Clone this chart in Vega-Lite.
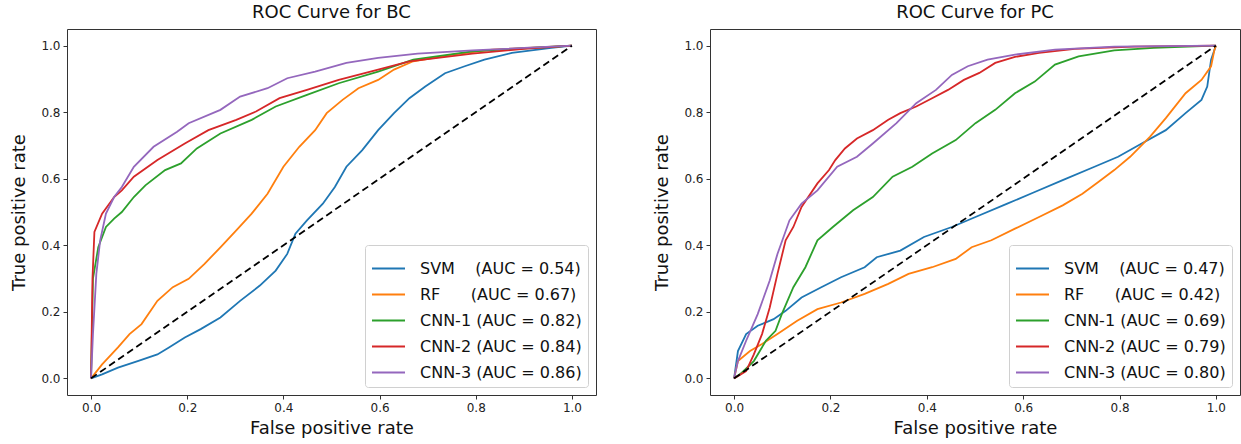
{
"$schema": "https://vega.github.io/schema/vega-lite/v6.json",
"padding": {"left": 10, "top": 3, "right": 0, "bottom": 0},
"background": "white",
"spacing": 114,
"bounds": "flush",
"config": {
  "font": "DejaVu Sans",
  "view": {"stroke": "#333", "strokeWidth": 1},
  "axis": {"grid": false, "domain": false, "tickColor": "#333", "tickSize": 4, "tickWidth": 1, "labelFontSize": 12, "labelColor": "#222", "labelFont": "DejaVu Sans", "titleFont": "DejaVu Sans", "titleFontSize": 18, "titleFontWeight": "normal", "titleColor": "#111", "labelPadding": 3},
  "axisX": {"titlePadding": 6},
  "axisY": {"titlePadding": 12},
  "title": {"fontSize": 18, "fontWeight": "normal", "color": "#111", "font": "DejaVu Sans", "offset": 7},
  "legend": {"labelFontSize": 16, "labelFont": "DejaVu Sans", "labelColor": "#111", "labelLimit": 0, "symbolType": "stroke", "symbolSize": 1089, "symbolStrokeWidth": 2, "strokeColor": "#d0d0d0", "fillColor": "rgba(255,255,255,0.85)", "padding": 6, "cornerRadius": 3, "rowPadding": -9, "labelOffset": 14, "offset": 8, "orient": "bottom-right"}
},
"datasets": {
  "diag": [{"fpr": 0, "tpr": 0}, {"fpr": 1, "tpr": 1}],
  "bc": [
    {"model": "SVM\u00a0\u00a0\u00a0\u00a0(AUC = 0.54)", "fpr": 0, "tpr": 0},
    {"model": "SVM\u00a0\u00a0\u00a0\u00a0(AUC = 0.54)", "fpr": 0.023, "tpr": 0.012},
    {"model": "SVM\u00a0\u00a0\u00a0\u00a0(AUC = 0.54)", "fpr": 0.056, "tpr": 0.032},
    {"model": "SVM\u00a0\u00a0\u00a0\u00a0(AUC = 0.54)", "fpr": 0.097, "tpr": 0.052},
    {"model": "SVM\u00a0\u00a0\u00a0\u00a0(AUC = 0.54)", "fpr": 0.138, "tpr": 0.072},
    {"model": "SVM\u00a0\u00a0\u00a0\u00a0(AUC = 0.54)", "fpr": 0.162, "tpr": 0.093},
    {"model": "SVM\u00a0\u00a0\u00a0\u00a0(AUC = 0.54)", "fpr": 0.195, "tpr": 0.123},
    {"model": "SVM\u00a0\u00a0\u00a0\u00a0(AUC = 0.54)", "fpr": 0.228, "tpr": 0.148},
    {"model": "SVM\u00a0\u00a0\u00a0\u00a0(AUC = 0.54)", "fpr": 0.269, "tpr": 0.183},
    {"model": "SVM\u00a0\u00a0\u00a0\u00a0(AUC = 0.54)", "fpr": 0.31, "tpr": 0.233},
    {"model": "SVM\u00a0\u00a0\u00a0\u00a0(AUC = 0.54)", "fpr": 0.351, "tpr": 0.279},
    {"model": "SVM\u00a0\u00a0\u00a0\u00a0(AUC = 0.54)", "fpr": 0.384, "tpr": 0.324},
    {"model": "SVM\u00a0\u00a0\u00a0\u00a0(AUC = 0.54)", "fpr": 0.408, "tpr": 0.374},
    {"model": "SVM\u00a0\u00a0\u00a0\u00a0(AUC = 0.54)", "fpr": 0.425, "tpr": 0.435},
    {"model": "SVM\u00a0\u00a0\u00a0\u00a0(AUC = 0.54)", "fpr": 0.449, "tpr": 0.475},
    {"model": "SVM\u00a0\u00a0\u00a0\u00a0(AUC = 0.54)", "fpr": 0.482, "tpr": 0.525},
    {"model": "SVM\u00a0\u00a0\u00a0\u00a0(AUC = 0.54)", "fpr": 0.507, "tpr": 0.575},
    {"model": "SVM\u00a0\u00a0\u00a0\u00a0(AUC = 0.54)", "fpr": 0.531, "tpr": 0.636},
    {"model": "SVM\u00a0\u00a0\u00a0\u00a0(AUC = 0.54)", "fpr": 0.564, "tpr": 0.686},
    {"model": "SVM\u00a0\u00a0\u00a0\u00a0(AUC = 0.54)", "fpr": 0.597, "tpr": 0.746},
    {"model": "SVM\u00a0\u00a0\u00a0\u00a0(AUC = 0.54)", "fpr": 0.63, "tpr": 0.797},
    {"model": "SVM\u00a0\u00a0\u00a0\u00a0(AUC = 0.54)", "fpr": 0.662, "tpr": 0.842},
    {"model": "SVM\u00a0\u00a0\u00a0\u00a0(AUC = 0.54)", "fpr": 0.695, "tpr": 0.877},
    {"model": "SVM\u00a0\u00a0\u00a0\u00a0(AUC = 0.54)", "fpr": 0.736, "tpr": 0.917},
    {"model": "SVM\u00a0\u00a0\u00a0\u00a0(AUC = 0.54)", "fpr": 0.777, "tpr": 0.938},
    {"model": "SVM\u00a0\u00a0\u00a0\u00a0(AUC = 0.54)", "fpr": 0.818, "tpr": 0.958},
    {"model": "SVM\u00a0\u00a0\u00a0\u00a0(AUC = 0.54)", "fpr": 0.875, "tpr": 0.978},
    {"model": "SVM\u00a0\u00a0\u00a0\u00a0(AUC = 0.54)", "fpr": 0.957, "tpr": 0.993},
    {"model": "SVM\u00a0\u00a0\u00a0\u00a0(AUC = 0.54)", "fpr": 1, "tpr": 1},
    {"model": "RF\u00a0\u00a0\u00a0\u00a0\u00a0\u00a0(AUC = 0.67)", "fpr": 0, "tpr": 0},
    {"model": "RF\u00a0\u00a0\u00a0\u00a0\u00a0\u00a0(AUC = 0.67)", "fpr": 0.023, "tpr": 0.042},
    {"model": "RF\u00a0\u00a0\u00a0\u00a0\u00a0\u00a0(AUC = 0.67)", "fpr": 0.056, "tpr": 0.093},
    {"model": "RF\u00a0\u00a0\u00a0\u00a0\u00a0\u00a0(AUC = 0.67)", "fpr": 0.08, "tpr": 0.133},
    {"model": "RF\u00a0\u00a0\u00a0\u00a0\u00a0\u00a0(AUC = 0.67)", "fpr": 0.105, "tpr": 0.163},
    {"model": "RF\u00a0\u00a0\u00a0\u00a0\u00a0\u00a0(AUC = 0.67)", "fpr": 0.138, "tpr": 0.233},
    {"model": "RF\u00a0\u00a0\u00a0\u00a0\u00a0\u00a0(AUC = 0.67)", "fpr": 0.17, "tpr": 0.274},
    {"model": "RF\u00a0\u00a0\u00a0\u00a0\u00a0\u00a0(AUC = 0.67)", "fpr": 0.203, "tpr": 0.299},
    {"model": "RF\u00a0\u00a0\u00a0\u00a0\u00a0\u00a0(AUC = 0.67)", "fpr": 0.236, "tpr": 0.344},
    {"model": "RF\u00a0\u00a0\u00a0\u00a0\u00a0\u00a0(AUC = 0.67)", "fpr": 0.269, "tpr": 0.394},
    {"model": "RF\u00a0\u00a0\u00a0\u00a0\u00a0\u00a0(AUC = 0.67)", "fpr": 0.302, "tpr": 0.445},
    {"model": "RF\u00a0\u00a0\u00a0\u00a0\u00a0\u00a0(AUC = 0.67)", "fpr": 0.334, "tpr": 0.495},
    {"model": "RF\u00a0\u00a0\u00a0\u00a0\u00a0\u00a0(AUC = 0.67)", "fpr": 0.367, "tpr": 0.555},
    {"model": "RF\u00a0\u00a0\u00a0\u00a0\u00a0\u00a0(AUC = 0.67)", "fpr": 0.4, "tpr": 0.636},
    {"model": "RF\u00a0\u00a0\u00a0\u00a0\u00a0\u00a0(AUC = 0.67)", "fpr": 0.433, "tpr": 0.696},
    {"model": "RF\u00a0\u00a0\u00a0\u00a0\u00a0\u00a0(AUC = 0.67)", "fpr": 0.466, "tpr": 0.746},
    {"model": "RF\u00a0\u00a0\u00a0\u00a0\u00a0\u00a0(AUC = 0.67)", "fpr": 0.49, "tpr": 0.797},
    {"model": "RF\u00a0\u00a0\u00a0\u00a0\u00a0\u00a0(AUC = 0.67)", "fpr": 0.523, "tpr": 0.837},
    {"model": "RF\u00a0\u00a0\u00a0\u00a0\u00a0\u00a0(AUC = 0.67)", "fpr": 0.556, "tpr": 0.872},
    {"model": "RF\u00a0\u00a0\u00a0\u00a0\u00a0\u00a0(AUC = 0.67)", "fpr": 0.597, "tpr": 0.897},
    {"model": "RF\u00a0\u00a0\u00a0\u00a0\u00a0\u00a0(AUC = 0.67)", "fpr": 0.63, "tpr": 0.928},
    {"model": "RF\u00a0\u00a0\u00a0\u00a0\u00a0\u00a0(AUC = 0.67)", "fpr": 0.67, "tpr": 0.953},
    {"model": "RF\u00a0\u00a0\u00a0\u00a0\u00a0\u00a0(AUC = 0.67)", "fpr": 0.752, "tpr": 0.973},
    {"model": "RF\u00a0\u00a0\u00a0\u00a0\u00a0\u00a0(AUC = 0.67)", "fpr": 0.834, "tpr": 0.988},
    {"model": "RF\u00a0\u00a0\u00a0\u00a0\u00a0\u00a0(AUC = 0.67)", "fpr": 1, "tpr": 1},
    {"model": "CNN-1 (AUC = 0.82)", "fpr": 0, "tpr": 0},
    {"model": "CNN-1 (AUC = 0.82)", "fpr": 0.004, "tpr": 0.3},
    {"model": "CNN-1 (AUC = 0.82)", "fpr": 0.015, "tpr": 0.394},
    {"model": "CNN-1 (AUC = 0.82)", "fpr": 0.031, "tpr": 0.455},
    {"model": "CNN-1 (AUC = 0.82)", "fpr": 0.048, "tpr": 0.48},
    {"model": "CNN-1 (AUC = 0.82)", "fpr": 0.064, "tpr": 0.5},
    {"model": "CNN-1 (AUC = 0.82)", "fpr": 0.089, "tpr": 0.545},
    {"model": "CNN-1 (AUC = 0.82)", "fpr": 0.113, "tpr": 0.58},
    {"model": "CNN-1 (AUC = 0.82)", "fpr": 0.154, "tpr": 0.626},
    {"model": "CNN-1 (AUC = 0.82)", "fpr": 0.187, "tpr": 0.646},
    {"model": "CNN-1 (AUC = 0.82)", "fpr": 0.22, "tpr": 0.691},
    {"model": "CNN-1 (AUC = 0.82)", "fpr": 0.269, "tpr": 0.736},
    {"model": "CNN-1 (AUC = 0.82)", "fpr": 0.334, "tpr": 0.777},
    {"model": "CNN-1 (AUC = 0.82)", "fpr": 0.384, "tpr": 0.817},
    {"model": "CNN-1 (AUC = 0.82)", "fpr": 0.449, "tpr": 0.852},
    {"model": "CNN-1 (AUC = 0.82)", "fpr": 0.515, "tpr": 0.887},
    {"model": "CNN-1 (AUC = 0.82)", "fpr": 0.597, "tpr": 0.922},
    {"model": "CNN-1 (AUC = 0.82)", "fpr": 0.67, "tpr": 0.958},
    {"model": "CNN-1 (AUC = 0.82)", "fpr": 0.793, "tpr": 0.983},
    {"model": "CNN-1 (AUC = 0.82)", "fpr": 1, "tpr": 1},
    {"model": "CNN-2 (AUC = 0.84)", "fpr": 0, "tpr": 0},
    {"model": "CNN-2 (AUC = 0.84)", "fpr": 0.003, "tpr": 0.3},
    {"model": "CNN-2 (AUC = 0.84)", "fpr": 0.007, "tpr": 0.44},
    {"model": "CNN-2 (AUC = 0.84)", "fpr": 0.023, "tpr": 0.495},
    {"model": "CNN-2 (AUC = 0.84)", "fpr": 0.048, "tpr": 0.545},
    {"model": "CNN-2 (AUC = 0.84)", "fpr": 0.064, "tpr": 0.565},
    {"model": "CNN-2 (AUC = 0.84)", "fpr": 0.089, "tpr": 0.606},
    {"model": "CNN-2 (AUC = 0.84)", "fpr": 0.138, "tpr": 0.656},
    {"model": "CNN-2 (AUC = 0.84)", "fpr": 0.195, "tpr": 0.706},
    {"model": "CNN-2 (AUC = 0.84)", "fpr": 0.244, "tpr": 0.746},
    {"model": "CNN-2 (AUC = 0.84)", "fpr": 0.302, "tpr": 0.777},
    {"model": "CNN-2 (AUC = 0.84)", "fpr": 0.343, "tpr": 0.802},
    {"model": "CNN-2 (AUC = 0.84)", "fpr": 0.392, "tpr": 0.842},
    {"model": "CNN-2 (AUC = 0.84)", "fpr": 0.449, "tpr": 0.867},
    {"model": "CNN-2 (AUC = 0.84)", "fpr": 0.515, "tpr": 0.897},
    {"model": "CNN-2 (AUC = 0.84)", "fpr": 0.597, "tpr": 0.928},
    {"model": "CNN-2 (AUC = 0.84)", "fpr": 0.662, "tpr": 0.953},
    {"model": "CNN-2 (AUC = 0.84)", "fpr": 0.793, "tpr": 0.976},
    {"model": "CNN-2 (AUC = 0.84)", "fpr": 0.9, "tpr": 0.99},
    {"model": "CNN-2 (AUC = 0.84)", "fpr": 1, "tpr": 1},
    {"model": "CNN-3 (AUC = 0.86)", "fpr": 0, "tpr": 0},
    {"model": "CNN-3 (AUC = 0.86)", "fpr": 0.004, "tpr": 0.133},
    {"model": "CNN-3 (AUC = 0.86)", "fpr": 0.011, "tpr": 0.314},
    {"model": "CNN-3 (AUC = 0.86)", "fpr": 0.019, "tpr": 0.415},
    {"model": "CNN-3 (AUC = 0.86)", "fpr": 0.031, "tpr": 0.495},
    {"model": "CNN-3 (AUC = 0.86)", "fpr": 0.048, "tpr": 0.545},
    {"model": "CNN-3 (AUC = 0.86)", "fpr": 0.064, "tpr": 0.575},
    {"model": "CNN-3 (AUC = 0.86)", "fpr": 0.089, "tpr": 0.636},
    {"model": "CNN-3 (AUC = 0.86)", "fpr": 0.13, "tpr": 0.696},
    {"model": "CNN-3 (AUC = 0.86)", "fpr": 0.179, "tpr": 0.741},
    {"model": "CNN-3 (AUC = 0.86)", "fpr": 0.203, "tpr": 0.767},
    {"model": "CNN-3 (AUC = 0.86)", "fpr": 0.269, "tpr": 0.807},
    {"model": "CNN-3 (AUC = 0.86)", "fpr": 0.31, "tpr": 0.847},
    {"model": "CNN-3 (AUC = 0.86)", "fpr": 0.367, "tpr": 0.872},
    {"model": "CNN-3 (AUC = 0.86)", "fpr": 0.408, "tpr": 0.902},
    {"model": "CNN-3 (AUC = 0.86)", "fpr": 0.466, "tpr": 0.922},
    {"model": "CNN-3 (AUC = 0.86)", "fpr": 0.531, "tpr": 0.948},
    {"model": "CNN-3 (AUC = 0.86)", "fpr": 0.597, "tpr": 0.963},
    {"model": "CNN-3 (AUC = 0.86)", "fpr": 0.679, "tpr": 0.976},
    {"model": "CNN-3 (AUC = 0.86)", "fpr": 0.793, "tpr": 0.986},
    {"model": "CNN-3 (AUC = 0.86)", "fpr": 1, "tpr": 1}
  ],
  "pc": [
    {"model": "SVM\u00a0\u00a0\u00a0\u00a0(AUC = 0.47)", "fpr": 0, "tpr": 0},
    {"model": "SVM\u00a0\u00a0\u00a0\u00a0(AUC = 0.47)", "fpr": 0.008, "tpr": 0.082},
    {"model": "SVM\u00a0\u00a0\u00a0\u00a0(AUC = 0.47)", "fpr": 0.025, "tpr": 0.133},
    {"model": "SVM\u00a0\u00a0\u00a0\u00a0(AUC = 0.47)", "fpr": 0.049, "tpr": 0.158},
    {"model": "SVM\u00a0\u00a0\u00a0\u00a0(AUC = 0.47)", "fpr": 0.082, "tpr": 0.178},
    {"model": "SVM\u00a0\u00a0\u00a0\u00a0(AUC = 0.47)", "fpr": 0.107, "tpr": 0.203},
    {"model": "SVM\u00a0\u00a0\u00a0\u00a0(AUC = 0.47)", "fpr": 0.14, "tpr": 0.243},
    {"model": "SVM\u00a0\u00a0\u00a0\u00a0(AUC = 0.47)", "fpr": 0.181, "tpr": 0.274},
    {"model": "SVM\u00a0\u00a0\u00a0\u00a0(AUC = 0.47)", "fpr": 0.222, "tpr": 0.304},
    {"model": "SVM\u00a0\u00a0\u00a0\u00a0(AUC = 0.47)", "fpr": 0.271, "tpr": 0.334},
    {"model": "SVM\u00a0\u00a0\u00a0\u00a0(AUC = 0.47)", "fpr": 0.296, "tpr": 0.364},
    {"model": "SVM\u00a0\u00a0\u00a0\u00a0(AUC = 0.47)", "fpr": 0.345, "tpr": 0.384},
    {"model": "SVM\u00a0\u00a0\u00a0\u00a0(AUC = 0.47)", "fpr": 0.394, "tpr": 0.425},
    {"model": "SVM\u00a0\u00a0\u00a0\u00a0(AUC = 0.47)", "fpr": 0.452, "tpr": 0.455},
    {"model": "SVM\u00a0\u00a0\u00a0\u00a0(AUC = 0.47)", "fpr": 0.501, "tpr": 0.485},
    {"model": "SVM\u00a0\u00a0\u00a0\u00a0(AUC = 0.47)", "fpr": 0.567, "tpr": 0.525},
    {"model": "SVM\u00a0\u00a0\u00a0\u00a0(AUC = 0.47)", "fpr": 0.624, "tpr": 0.56},
    {"model": "SVM\u00a0\u00a0\u00a0\u00a0(AUC = 0.47)", "fpr": 0.682, "tpr": 0.596},
    {"model": "SVM\u00a0\u00a0\u00a0\u00a0(AUC = 0.47)", "fpr": 0.748, "tpr": 0.636},
    {"model": "SVM\u00a0\u00a0\u00a0\u00a0(AUC = 0.47)", "fpr": 0.797, "tpr": 0.666},
    {"model": "SVM\u00a0\u00a0\u00a0\u00a0(AUC = 0.47)", "fpr": 0.846, "tpr": 0.706},
    {"model": "SVM\u00a0\u00a0\u00a0\u00a0(AUC = 0.47)", "fpr": 0.896, "tpr": 0.746},
    {"model": "SVM\u00a0\u00a0\u00a0\u00a0(AUC = 0.47)", "fpr": 0.937, "tpr": 0.797},
    {"model": "SVM\u00a0\u00a0\u00a0\u00a0(AUC = 0.47)", "fpr": 0.97, "tpr": 0.837},
    {"model": "SVM\u00a0\u00a0\u00a0\u00a0(AUC = 0.47)", "fpr": 0.982, "tpr": 0.877},
    {"model": "SVM\u00a0\u00a0\u00a0\u00a0(AUC = 0.47)", "fpr": 0.99, "tpr": 0.958},
    {"model": "SVM\u00a0\u00a0\u00a0\u00a0(AUC = 0.47)", "fpr": 1, "tpr": 1},
    {"model": "RF\u00a0\u00a0\u00a0\u00a0\u00a0\u00a0(AUC = 0.42)", "fpr": 0, "tpr": 0},
    {"model": "RF\u00a0\u00a0\u00a0\u00a0\u00a0\u00a0(AUC = 0.42)", "fpr": 0.008, "tpr": 0.052},
    {"model": "RF\u00a0\u00a0\u00a0\u00a0\u00a0\u00a0(AUC = 0.42)", "fpr": 0.033, "tpr": 0.082},
    {"model": "RF\u00a0\u00a0\u00a0\u00a0\u00a0\u00a0(AUC = 0.42)", "fpr": 0.058, "tpr": 0.103},
    {"model": "RF\u00a0\u00a0\u00a0\u00a0\u00a0\u00a0(AUC = 0.42)", "fpr": 0.09, "tpr": 0.133},
    {"model": "RF\u00a0\u00a0\u00a0\u00a0\u00a0\u00a0(AUC = 0.42)", "fpr": 0.131, "tpr": 0.173},
    {"model": "RF\u00a0\u00a0\u00a0\u00a0\u00a0\u00a0(AUC = 0.42)", "fpr": 0.173, "tpr": 0.208},
    {"model": "RF\u00a0\u00a0\u00a0\u00a0\u00a0\u00a0(AUC = 0.42)", "fpr": 0.222, "tpr": 0.228},
    {"model": "RF\u00a0\u00a0\u00a0\u00a0\u00a0\u00a0(AUC = 0.42)", "fpr": 0.271, "tpr": 0.254},
    {"model": "RF\u00a0\u00a0\u00a0\u00a0\u00a0\u00a0(AUC = 0.42)", "fpr": 0.32, "tpr": 0.284},
    {"model": "RF\u00a0\u00a0\u00a0\u00a0\u00a0\u00a0(AUC = 0.42)", "fpr": 0.362, "tpr": 0.314},
    {"model": "RF\u00a0\u00a0\u00a0\u00a0\u00a0\u00a0(AUC = 0.42)", "fpr": 0.411, "tpr": 0.334},
    {"model": "RF\u00a0\u00a0\u00a0\u00a0\u00a0\u00a0(AUC = 0.42)", "fpr": 0.46, "tpr": 0.359},
    {"model": "RF\u00a0\u00a0\u00a0\u00a0\u00a0\u00a0(AUC = 0.42)", "fpr": 0.493, "tpr": 0.394},
    {"model": "RF\u00a0\u00a0\u00a0\u00a0\u00a0\u00a0(AUC = 0.42)", "fpr": 0.534, "tpr": 0.415},
    {"model": "RF\u00a0\u00a0\u00a0\u00a0\u00a0\u00a0(AUC = 0.42)", "fpr": 0.583, "tpr": 0.45},
    {"model": "RF\u00a0\u00a0\u00a0\u00a0\u00a0\u00a0(AUC = 0.42)", "fpr": 0.633, "tpr": 0.485},
    {"model": "RF\u00a0\u00a0\u00a0\u00a0\u00a0\u00a0(AUC = 0.42)", "fpr": 0.682, "tpr": 0.52},
    {"model": "RF\u00a0\u00a0\u00a0\u00a0\u00a0\u00a0(AUC = 0.42)", "fpr": 0.723, "tpr": 0.555},
    {"model": "RF\u00a0\u00a0\u00a0\u00a0\u00a0\u00a0(AUC = 0.42)", "fpr": 0.756, "tpr": 0.59},
    {"model": "RF\u00a0\u00a0\u00a0\u00a0\u00a0\u00a0(AUC = 0.42)", "fpr": 0.789, "tpr": 0.626},
    {"model": "RF\u00a0\u00a0\u00a0\u00a0\u00a0\u00a0(AUC = 0.42)", "fpr": 0.822, "tpr": 0.666},
    {"model": "RF\u00a0\u00a0\u00a0\u00a0\u00a0\u00a0(AUC = 0.42)", "fpr": 0.863, "tpr": 0.726},
    {"model": "RF\u00a0\u00a0\u00a0\u00a0\u00a0\u00a0(AUC = 0.42)", "fpr": 0.896, "tpr": 0.782},
    {"model": "RF\u00a0\u00a0\u00a0\u00a0\u00a0\u00a0(AUC = 0.42)", "fpr": 0.937, "tpr": 0.857},
    {"model": "RF\u00a0\u00a0\u00a0\u00a0\u00a0\u00a0(AUC = 0.42)", "fpr": 0.97, "tpr": 0.897},
    {"model": "RF\u00a0\u00a0\u00a0\u00a0\u00a0\u00a0(AUC = 0.42)", "fpr": 0.99, "tpr": 0.938},
    {"model": "RF\u00a0\u00a0\u00a0\u00a0\u00a0\u00a0(AUC = 0.42)", "fpr": 0.997, "tpr": 0.988},
    {"model": "RF\u00a0\u00a0\u00a0\u00a0\u00a0\u00a0(AUC = 0.42)", "fpr": 1, "tpr": 1},
    {"model": "CNN-1 (AUC = 0.69)", "fpr": 0, "tpr": 0},
    {"model": "CNN-1 (AUC = 0.69)", "fpr": 0.016, "tpr": 0.017},
    {"model": "CNN-1 (AUC = 0.69)", "fpr": 0.041, "tpr": 0.052},
    {"model": "CNN-1 (AUC = 0.69)", "fpr": 0.066, "tpr": 0.113},
    {"model": "CNN-1 (AUC = 0.69)", "fpr": 0.086, "tpr": 0.143},
    {"model": "CNN-1 (AUC = 0.69)", "fpr": 0.099, "tpr": 0.193},
    {"model": "CNN-1 (AUC = 0.69)", "fpr": 0.123, "tpr": 0.274},
    {"model": "CNN-1 (AUC = 0.69)", "fpr": 0.148, "tpr": 0.334},
    {"model": "CNN-1 (AUC = 0.69)", "fpr": 0.173, "tpr": 0.415},
    {"model": "CNN-1 (AUC = 0.69)", "fpr": 0.205, "tpr": 0.455},
    {"model": "CNN-1 (AUC = 0.69)", "fpr": 0.247, "tpr": 0.505},
    {"model": "CNN-1 (AUC = 0.69)", "fpr": 0.288, "tpr": 0.545},
    {"model": "CNN-1 (AUC = 0.69)", "fpr": 0.329, "tpr": 0.606},
    {"model": "CNN-1 (AUC = 0.69)", "fpr": 0.37, "tpr": 0.636},
    {"model": "CNN-1 (AUC = 0.69)", "fpr": 0.411, "tpr": 0.676},
    {"model": "CNN-1 (AUC = 0.69)", "fpr": 0.46, "tpr": 0.716},
    {"model": "CNN-1 (AUC = 0.69)", "fpr": 0.501, "tpr": 0.767},
    {"model": "CNN-1 (AUC = 0.69)", "fpr": 0.542, "tpr": 0.807},
    {"model": "CNN-1 (AUC = 0.69)", "fpr": 0.583, "tpr": 0.857},
    {"model": "CNN-1 (AUC = 0.69)", "fpr": 0.624, "tpr": 0.892},
    {"model": "CNN-1 (AUC = 0.69)", "fpr": 0.666, "tpr": 0.943},
    {"model": "CNN-1 (AUC = 0.69)", "fpr": 0.715, "tpr": 0.968},
    {"model": "CNN-1 (AUC = 0.69)", "fpr": 0.789, "tpr": 0.986},
    {"model": "CNN-1 (AUC = 0.69)", "fpr": 0.871, "tpr": 0.993},
    {"model": "CNN-1 (AUC = 0.69)", "fpr": 1, "tpr": 1},
    {"model": "CNN-2 (AUC = 0.79)", "fpr": 0, "tpr": 0},
    {"model": "CNN-2 (AUC = 0.79)", "fpr": 0.025, "tpr": 0.022},
    {"model": "CNN-2 (AUC = 0.79)", "fpr": 0.041, "tpr": 0.072},
    {"model": "CNN-2 (AUC = 0.79)", "fpr": 0.058, "tpr": 0.133},
    {"model": "CNN-2 (AUC = 0.79)", "fpr": 0.074, "tpr": 0.213},
    {"model": "CNN-2 (AUC = 0.79)", "fpr": 0.09, "tpr": 0.314},
    {"model": "CNN-2 (AUC = 0.79)", "fpr": 0.107, "tpr": 0.415},
    {"model": "CNN-2 (AUC = 0.79)", "fpr": 0.123, "tpr": 0.455},
    {"model": "CNN-2 (AUC = 0.79)", "fpr": 0.14, "tpr": 0.515},
    {"model": "CNN-2 (AUC = 0.79)", "fpr": 0.173, "tpr": 0.586},
    {"model": "CNN-2 (AUC = 0.79)", "fpr": 0.197, "tpr": 0.626},
    {"model": "CNN-2 (AUC = 0.79)", "fpr": 0.21, "tpr": 0.656},
    {"model": "CNN-2 (AUC = 0.79)", "fpr": 0.23, "tpr": 0.691},
    {"model": "CNN-2 (AUC = 0.79)", "fpr": 0.255, "tpr": 0.721},
    {"model": "CNN-2 (AUC = 0.79)", "fpr": 0.288, "tpr": 0.746},
    {"model": "CNN-2 (AUC = 0.79)", "fpr": 0.32, "tpr": 0.777},
    {"model": "CNN-2 (AUC = 0.79)", "fpr": 0.345, "tpr": 0.797},
    {"model": "CNN-2 (AUC = 0.79)", "fpr": 0.378, "tpr": 0.817},
    {"model": "CNN-2 (AUC = 0.79)", "fpr": 0.411, "tpr": 0.842},
    {"model": "CNN-2 (AUC = 0.79)", "fpr": 0.444, "tpr": 0.867},
    {"model": "CNN-2 (AUC = 0.79)", "fpr": 0.477, "tpr": 0.897},
    {"model": "CNN-2 (AUC = 0.79)", "fpr": 0.509, "tpr": 0.918},
    {"model": "CNN-2 (AUC = 0.79)", "fpr": 0.542, "tpr": 0.948},
    {"model": "CNN-2 (AUC = 0.79)", "fpr": 0.583, "tpr": 0.966},
    {"model": "CNN-2 (AUC = 0.79)", "fpr": 0.633, "tpr": 0.978},
    {"model": "CNN-2 (AUC = 0.79)", "fpr": 0.707, "tpr": 0.99},
    {"model": "CNN-2 (AUC = 0.79)", "fpr": 0.83, "tpr": 0.997},
    {"model": "CNN-2 (AUC = 0.79)", "fpr": 1, "tpr": 1},
    {"model": "CNN-3 (AUC = 0.80)", "fpr": 0, "tpr": 0},
    {"model": "CNN-3 (AUC = 0.80)", "fpr": 0.008, "tpr": 0.052},
    {"model": "CNN-3 (AUC = 0.80)", "fpr": 0.025, "tpr": 0.113},
    {"model": "CNN-3 (AUC = 0.80)", "fpr": 0.049, "tpr": 0.193},
    {"model": "CNN-3 (AUC = 0.80)", "fpr": 0.074, "tpr": 0.294},
    {"model": "CNN-3 (AUC = 0.80)", "fpr": 0.09, "tpr": 0.374},
    {"model": "CNN-3 (AUC = 0.80)", "fpr": 0.115, "tpr": 0.475},
    {"model": "CNN-3 (AUC = 0.80)", "fpr": 0.14, "tpr": 0.525},
    {"model": "CNN-3 (AUC = 0.80)", "fpr": 0.173, "tpr": 0.565},
    {"model": "CNN-3 (AUC = 0.80)", "fpr": 0.214, "tpr": 0.636},
    {"model": "CNN-3 (AUC = 0.80)", "fpr": 0.255, "tpr": 0.666},
    {"model": "CNN-3 (AUC = 0.80)", "fpr": 0.288, "tpr": 0.706},
    {"model": "CNN-3 (AUC = 0.80)", "fpr": 0.337, "tpr": 0.767},
    {"model": "CNN-3 (AUC = 0.80)", "fpr": 0.378, "tpr": 0.827},
    {"model": "CNN-3 (AUC = 0.80)", "fpr": 0.419, "tpr": 0.867},
    {"model": "CNN-3 (AUC = 0.80)", "fpr": 0.452, "tpr": 0.912},
    {"model": "CNN-3 (AUC = 0.80)", "fpr": 0.485, "tpr": 0.938},
    {"model": "CNN-3 (AUC = 0.80)", "fpr": 0.526, "tpr": 0.958},
    {"model": "CNN-3 (AUC = 0.80)", "fpr": 0.583, "tpr": 0.973},
    {"model": "CNN-3 (AUC = 0.80)", "fpr": 0.666, "tpr": 0.988},
    {"model": "CNN-3 (AUC = 0.80)", "fpr": 0.789, "tpr": 0.997},
    {"model": "CNN-3 (AUC = 0.80)", "fpr": 1, "tpr": 1}
  ]
},
"hconcat": [
  {
    "width": 529, "height": 366,
    "title": "ROC Curve for BC",
    "layer": [
      {
        "data": {"name": "bc"},
        "mark": {"type": "line", "strokeWidth": 1.8},
        "encoding": {
          "x": {"field": "fpr", "type": "quantitative", "title": "False positive rate", "scale": {"domain": [-0.05, 1.05], "nice": false, "zero": false}, "axis": {"values": [0, 0.2, 0.4, 0.6, 0.8, 1], "format": ".1f"}},
          "y": {"field": "tpr", "type": "quantitative", "title": "True positive rate", "scale": {"domain": [-0.05, 1.05], "nice": false, "zero": false}, "axis": {"values": [0, 0.2, 0.4, 0.6, 0.8, 1], "format": ".1f"}},
          "color": {"field": "model", "type": "nominal", "scale": {"domain": ["SVM\u00a0\u00a0\u00a0\u00a0(AUC = 0.54)", "RF\u00a0\u00a0\u00a0\u00a0\u00a0\u00a0(AUC = 0.67)", "CNN-1 (AUC = 0.82)", "CNN-2 (AUC = 0.84)", "CNN-3 (AUC = 0.86)"], "range": ["#1f77b4", "#ff7f0e", "#2ca02c", "#d62728", "#9467bd"]}, "legend": {"title": null, "orient": "bottom-right"}}
        }
      },
      {
        "data": {"name": "diag"},
        "mark": {"type": "line", "color": "black", "strokeDash": [7, 4], "strokeWidth": 1.8},
        "encoding": {
          "x": {"field": "fpr", "type": "quantitative"},
          "y": {"field": "tpr", "type": "quantitative"}
        }
      }
    ]
  },
  {
    "width": 530, "height": 366,
    "title": "ROC Curve for PC",
    "layer": [
      {
        "data": {"name": "pc"},
        "mark": {"type": "line", "strokeWidth": 1.8},
        "encoding": {
          "x": {"field": "fpr", "type": "quantitative", "title": "False positive rate", "scale": {"domain": [-0.05, 1.05], "nice": false, "zero": false}, "axis": {"values": [0, 0.2, 0.4, 0.6, 0.8, 1], "format": ".1f"}},
          "y": {"field": "tpr", "type": "quantitative", "title": "True positive rate", "scale": {"domain": [-0.05, 1.05], "nice": false, "zero": false}, "axis": {"values": [0, 0.2, 0.4, 0.6, 0.8, 1], "format": ".1f"}},
          "color": {"field": "model", "type": "nominal", "scale": {"domain": ["SVM\u00a0\u00a0\u00a0\u00a0(AUC = 0.47)", "RF\u00a0\u00a0\u00a0\u00a0\u00a0\u00a0(AUC = 0.42)", "CNN-1 (AUC = 0.69)", "CNN-2 (AUC = 0.79)", "CNN-3 (AUC = 0.80)"], "range": ["#1f77b4", "#ff7f0e", "#2ca02c", "#d62728", "#9467bd"]}, "legend": {"title": null, "orient": "bottom-right"}}
        }
      },
      {
        "data": {"name": "diag"},
        "mark": {"type": "line", "color": "black", "strokeDash": [7, 4], "strokeWidth": 1.8},
        "encoding": {
          "x": {"field": "fpr", "type": "quantitative"},
          "y": {"field": "tpr", "type": "quantitative"}
        }
      }
    ]
  }
],
"resolve": {"scale": {"color": "independent"}, "legend": {"color": "independent"}}
}
